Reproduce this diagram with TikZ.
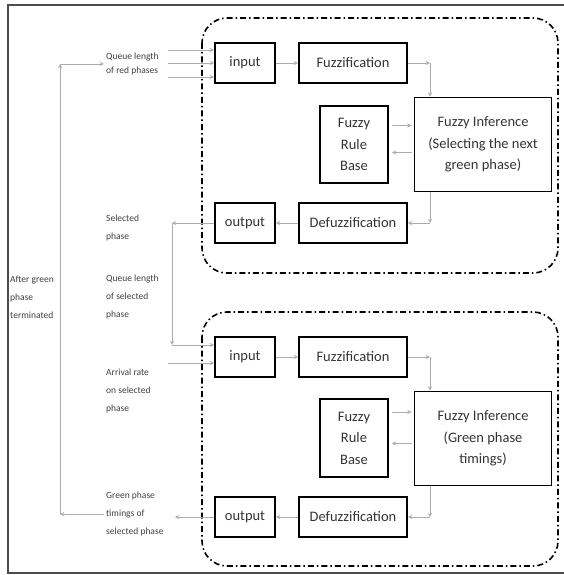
\documentclass[tikz,border=0pt]{standalone}
\usepackage{fontspec}
\setmainfont{Carlito}
\usepackage{tikz}
\usepackage{xcolor}

\begin{document}
\begin{tikzpicture}[>=stealth,x=1pt,y=-1pt,
  box/.style={draw,line width=1.9pt,inner sep=0pt,align=center,text=black!80,font=\fontsize{14.5}{21.5}\selectfont},
  conn/.style={draw=gray!65,line width=0.9pt},
  lbl/.style={anchor=west,inner sep=2pt,align=left,text=black!75,font=\fontsize{9.5}{18}\selectfont},
  group/.style={line width=1.6pt,rounded corners=25pt,dash pattern=on 6pt off 3pt on 1.5pt off 3pt}]

\useasboundingbox (0,0) rectangle (564,575);
\draw[black!70,line width=1.2pt] (564,5) -- (8,5) -- (8,573) -- (564,573);

\draw[group] (202,18) rectangle (558,273);
\draw[group] (202,312) rectangle (558,566);

\node(in1) at (245,63)[box,minimum width=60pt,minimum height=40pt] {input};
\node(fz1) at (353,63)[box,minimum width=108pt,minimum height=40pt] {Fuzzification};
\node(rb1) at (354,144.5)[box,minimum width=68pt,minimum height=77pt] {Fuzzy\\Rule\\Base};
\node(inf1) at (483,144.5)[box,minimum width=137pt,minimum height=94pt] {Fuzzy Inference\\(Selecting the next\\green phase)};
\node(out1) at (245,223)[box,minimum width=60pt,minimum height=40pt] {output};
\node(dz1) at (353,223)[box,minimum width=108pt,minimum height=40pt] {Defuzzification};

\node(in2) at (245,357)[box,minimum width=60pt,minimum height=40pt] {input};
\node(fz2) at (353,357)[box,minimum width=108pt,minimum height=40pt] {Fuzzification};
\node(rb2) at (354,438)[box,minimum width=68pt,minimum height=78pt] {Fuzzy\\Rule\\Base};
\node(inf2) at (483,438.5)[box,minimum width=137pt,minimum height=94pt] {Fuzzy Inference\\(Green phase\\timings)};
\node(out2) at (245,517)[box,minimum width=60pt,minimum height=40pt] {output};
\node(dz2) at (353,517)[box,minimum width=108pt,minimum height=40pt] {Defuzzification};

\node(rql) at (104,64)[lbl,font=\fontsize{9.5}{14}\selectfont] {Queue length\\of red phases};
\node(spl) at (104,228)[lbl] {Selected\\phase};
\node(qsl) at (104,297)[lbl] {Queue length\\of selected\\phase};
\node(arl) at (104,391)[lbl] {Arrival rate\\on selected\\phase};
\node(gtl) at (104,514)[lbl] {Green phase\\timings of\\selected phase};
\node(agl) at (9,297)[lbl,inner sep=1pt] {After green\\phase\\terminated};

\coordinate (q1) at (168,50);
\coordinate (q2) at (168,63);
\coordinate (q3) at (168,77);
\coordinate (fbT) at (60,64);
\coordinate (fbB) at (60,514);
\coordinate (sp) at (172,223);
\coordinate (sq) at (172,345);
\coordinate (ar) at (168,363);
\coordinate (gt) at (175,517);
\coordinate (c1) at (430,63);
\coordinate (c2) at (430,223);
\coordinate (c3) at (430,357);
\coordinate (c4) at (430,517);

\draw[conn,->] (q1) -- (q1 -| in1.west);
\draw[conn,->] (q2) -- (q2 -| in1.west);
\draw[conn,->] (q3) -- (q3 -| in1.west);
\draw[conn,->] (in1) -- (fz1);
\draw[conn,->] (fz1.east) -- (c1);
\draw[conn,->] (c1) -- (c1 |- inf1.north);
\draw[conn,->,shorten <=3pt,shorten >=2pt] ([yshift=19pt]rb1.east) -- ([yshift=19pt]rb1.east -| inf1.west);
\draw[conn,->,shorten <=2pt,shorten >=3pt] ([yshift=-8pt]inf1.west) -- ([yshift=-8pt]inf1.west -| rb1.east);
\draw[conn,->] (c2 |- inf1.south) -- (c2);
\draw[conn,->] (c2) -- (dz1.east);
\draw[conn,->] (dz1) -- (out1);
\draw[conn,->] (out1.west) -- (sp);
\draw[conn,->] (sp) -- (sq);
\draw[conn,->] (sq) -- (sq -| in2.west);
\draw[conn,->] (ar) -- (ar -| in2.west);

\draw[conn,->] (in2) -- (fz2);
\draw[conn,->] (fz2.east) -- (c3);
\draw[conn,->] (c3) -- (c3 |- inf2.north);
\draw[conn,->,shorten <=3pt,shorten >=2pt] ([yshift=26pt]rb2.east) -- ([yshift=26pt]rb2.east -| inf2.west);
\draw[conn,->,shorten <=2pt,shorten >=3pt] ([yshift=-5pt]inf2.west) -- ([yshift=-5pt]inf2.west -| rb2.east);
\draw[conn,->] (c4 |- inf2.south) -- (c4);
\draw[conn,->] (c4) -- (dz2.east);
\draw[conn,->] (dz2) -- (out2);
\draw[conn,->] (out2.west) -- (gt);

\draw[conn,->] (gtl.west) -- (gtl.west -| fbB);
\draw[conn,->] (fbB) -- (fbT);
\draw[conn,->] (fbT) -- (fbT -| rql.west);

\end{tikzpicture}
\end{document}
